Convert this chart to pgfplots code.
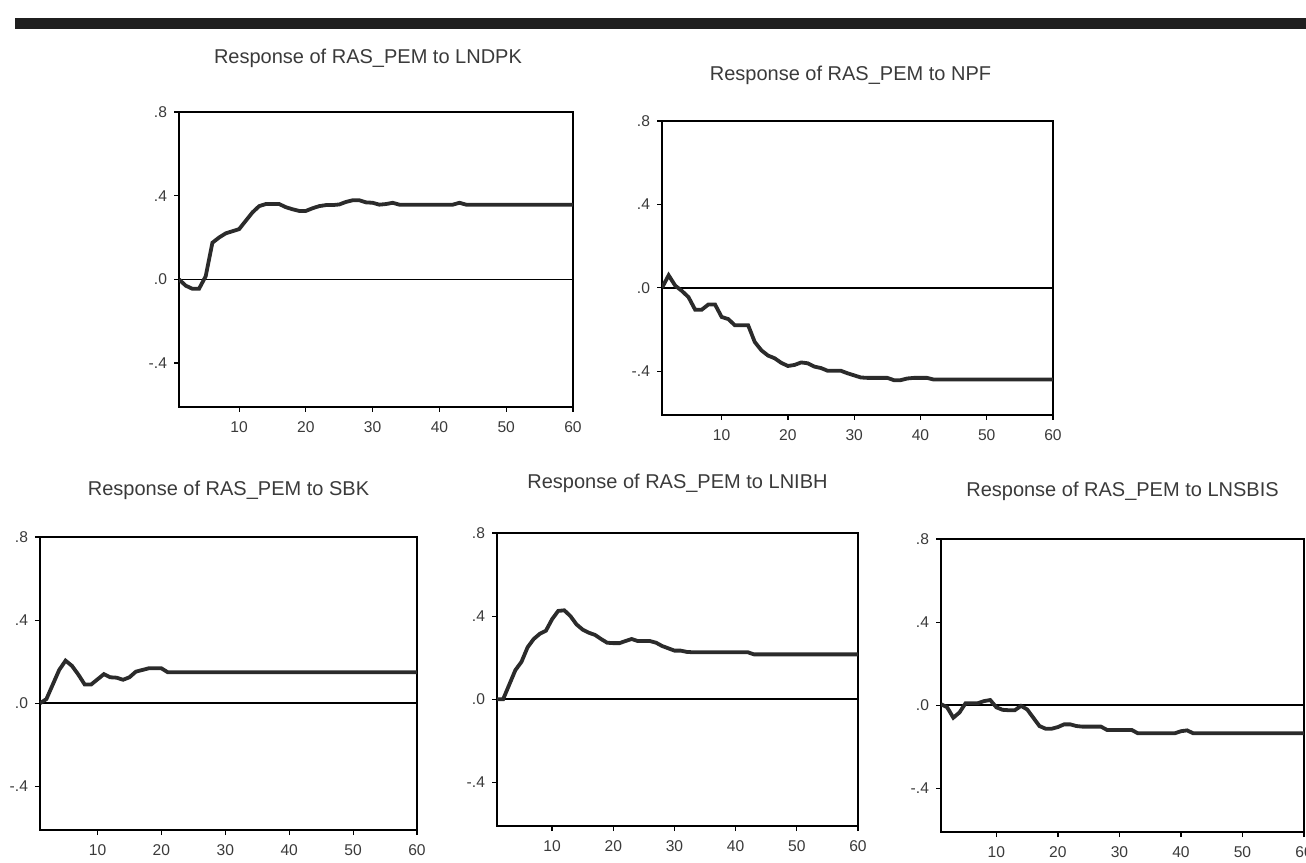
\documentclass[border=0pt]{standalone}
\usepackage{fontspec}
\setmainfont{Liberation Sans}
\usepackage{pgfplots}
\pgfplotsset{compat=1.18}
\definecolor{curve}{HTML}{2B2B2B}
\definecolor{lbl}{HTML}{3A3A3A}
\pgfplotsset{irf/.style={
  scale only axis, anchor=south west,
  xmin=1, xmax=60, ymin=-0.61, ymax=0.8,
  xtick={10,20,30,40,50,60}, xticklabels={10,20,30,40,50,60},
  ytick={-0.4,0,0.4,0.8}, yticklabels={-.4,.0,.4,.8},
  tick align=outside, tick pos=left, major tick length=2.5pt,
  axis line style={line width=1pt},
  every tick/.style={black, line width=0.6pt},
  tick label style={font=\fontsize{7.8}{8}\selectfont, text=lbl},
  xticklabel style={yshift=-1.5pt},
  title style={font=\fontsize{10}{12}\selectfont, text=lbl, at={(0.5,1)}, anchor=center},
  clip=true,
}}
\begin{document}
\begin{tikzpicture}
\useasboundingbox (0,0) rectangle (653pt,431pt);
\clip (0,0) rectangle (653pt,431pt);
\fill[black!88] (7.5pt,416.5pt) rectangle (653pt,422pt);

% Panel 1: LNDPK
\begin{axis}[irf, at={(89.5pt,227.5pt)}, width=197pt, height=147.5pt,
  title={Response of RAS\_PEM to LNDPK}, title style={yshift=21pt, xshift=-4pt}]
\addplot[black, line width=0.8pt] coordinates {(1,0) (60,0)};
\addplot[curve, line width=1.9pt] coordinates {
(1,0.0) (2,-0.03) (3,-0.045) (4,-0.045) (5,0.015) (6,0.175) (7,0.2) (8,0.22) (9,0.23) (10,0.24)
(11,0.28) (12,0.32) (13,0.35) (14,0.36) (15,0.36) (16,0.36) (17,0.345) (18,0.335) (19,0.327) (20,0.327)
(21,0.34) (22,0.35) (23,0.355) (24,0.355) (25,0.358) (26,0.37) (27,0.378) (28,0.378) (29,0.368) (30,0.366)
(31,0.357) (32,0.36) (33,0.366) (34,0.357) (35,0.357) (36,0.357) (37,0.357) (38,0.357) (39,0.357) (40,0.357)
(41,0.357) (42,0.357) (43,0.366) (44,0.357) (45,0.357) (46,0.357) (47,0.357) (48,0.357) (49,0.357) (50,0.357)
(51,0.357) (52,0.357) (53,0.357) (54,0.357) (55,0.357) (56,0.357) (57,0.357) (58,0.357) (59,0.357) (60,0.357)};
\end{axis}

% Panel 2: NPF
\begin{axis}[irf, at={(331pt,223.5pt)}, width=195.5pt, height=147pt,
  title={Response of RAS\_PEM to NPF}, title style={yshift=17pt, xshift=-3.5pt}]
\addplot[black, line width=0.8pt] coordinates {(1,0) (60,0)};
\addplot[curve, line width=1.9pt] coordinates {
(1,0.0) (2,0.06) (3,0.01) (4,-0.015) (5,-0.045) (6,-0.105) (7,-0.105) (8,-0.08) (9,-0.08) (10,-0.14)
(11,-0.15) (12,-0.18) (13,-0.18) (14,-0.18) (15,-0.26) (16,-0.3) (17,-0.325) (18,-0.338) (19,-0.36) (20,-0.375)
(21,-0.37) (22,-0.358) (23,-0.362) (24,-0.378) (25,-0.385) (26,-0.398) (27,-0.398) (28,-0.398) (29,-0.41) (30,-0.42)
(31,-0.43) (32,-0.432) (33,-0.432) (34,-0.432) (35,-0.432) (36,-0.443) (37,-0.443) (38,-0.435) (39,-0.432) (40,-0.432)
(41,-0.432) (42,-0.44) (43,-0.44) (44,-0.44) (45,-0.44) (46,-0.44) (47,-0.44) (48,-0.44) (49,-0.44) (50,-0.44)
(51,-0.44) (52,-0.44) (53,-0.44) (54,-0.44) (55,-0.44) (56,-0.44) (57,-0.44) (58,-0.44) (59,-0.44) (60,-0.44)};
\end{axis}

% Panel 3: SBK
\begin{axis}[irf, at={(20pt,16pt)}, width=188.5pt, height=146.5pt,
  title={Response of RAS\_PEM to SBK}, title style={yshift=17.5pt}]
\addplot[black, line width=0.8pt] coordinates {(1,0) (60,0)};
\addplot[curve, line width=1.9pt] coordinates {
(1,0.0) (2,0.02) (3,0.09) (4,0.16) (5,0.205) (6,0.18) (7,0.138) (8,0.09) (9,0.09) (10,0.115)
(11,0.14) (12,0.125) (13,0.123) (14,0.113) (15,0.125) (16,0.152) (17,0.16) (18,0.168) (19,0.168) (20,0.168)
(21,0.149) (22,0.149) (23,0.149) (24,0.149) (25,0.149) (26,0.149) (27,0.149) (28,0.149) (29,0.149) (30,0.149)
(31,0.149) (32,0.149) (33,0.149) (34,0.149) (35,0.149) (36,0.149) (37,0.149) (38,0.149) (39,0.149) (40,0.149)
(41,0.149) (42,0.149) (43,0.149) (44,0.149) (45,0.149) (46,0.149) (47,0.149) (48,0.149) (49,0.149) (50,0.149)
(51,0.149) (52,0.149) (53,0.149) (54,0.149) (55,0.149) (56,0.149) (57,0.149) (58,0.149) (59,0.149) (60,0.149)};
\end{axis}

% Panel 4: LNIBH
\begin{axis}[irf, at={(248.5pt,18pt)}, width=180.5pt, height=146.5pt,
  title={Response of RAS\_PEM to LNIBH}, title style={yshift=19pt}]
\addplot[black, line width=0.8pt] coordinates {(1,0) (60,0)};
\addplot[curve, line width=1.9pt] coordinates {
(1,0.0) (2,0.0) (3,0.07) (4,0.14) (5,0.18) (6,0.25) (7,0.29) (8,0.315) (9,0.33) (10,0.385)
(11,0.425) (12,0.428) (13,0.4) (14,0.36) (15,0.335) (16,0.32) (17,0.31) (18,0.29) (19,0.272) (20,0.27)
(21,0.27) (22,0.28) (23,0.29) (24,0.28) (25,0.28) (26,0.28) (27,0.272) (28,0.256) (29,0.245) (30,0.234)
(31,0.234) (32,0.228) (33,0.226) (34,0.226) (35,0.226) (36,0.226) (37,0.226) (38,0.226) (39,0.226) (40,0.226)
(41,0.226) (42,0.226) (43,0.216) (44,0.216) (45,0.216) (46,0.216) (47,0.216) (48,0.216) (49,0.216) (50,0.216)
(51,0.216) (52,0.216) (53,0.216) (54,0.216) (55,0.216) (56,0.216) (57,0.216) (58,0.216) (59,0.216) (60,0.216)};
\end{axis}

% Panel 5: LNSBIS
\begin{axis}[irf, at={(470.5pt,15pt)}, width=181.5pt, height=146.5pt,
  title={Response of RAS\_PEM to LNSBIS}, title style={yshift=18pt}]
\addplot[black, line width=0.8pt] coordinates {(1,0) (60,0)};
\addplot[curve, line width=1.9pt] coordinates {
(1,0.005) (2,-0.01) (3,-0.06) (4,-0.035) (5,0.01) (6,0.01) (7,0.01) (8,0.02) (9,0.025) (10,-0.01)
(11,-0.022) (12,-0.024) (13,-0.024) (14,-0.003) (15,-0.02) (16,-0.06) (17,-0.1) (18,-0.113) (19,-0.113) (20,-0.105)
(21,-0.092) (22,-0.092) (23,-0.1) (24,-0.103) (25,-0.103) (26,-0.103) (27,-0.103) (28,-0.119) (29,-0.119) (30,-0.119)
(31,-0.119) (32,-0.119) (33,-0.135) (34,-0.135) (35,-0.135) (36,-0.135) (37,-0.135) (38,-0.135) (39,-0.135) (40,-0.125)
(41,-0.121) (42,-0.135) (43,-0.135) (44,-0.135) (45,-0.135) (46,-0.135) (47,-0.135) (48,-0.135) (49,-0.135) (50,-0.135)
(51,-0.135) (52,-0.135) (53,-0.135) (54,-0.135) (55,-0.135) (56,-0.135) (57,-0.135) (58,-0.135) (59,-0.135) (60,-0.135)};
\end{axis}
\end{tikzpicture}
\end{document}
